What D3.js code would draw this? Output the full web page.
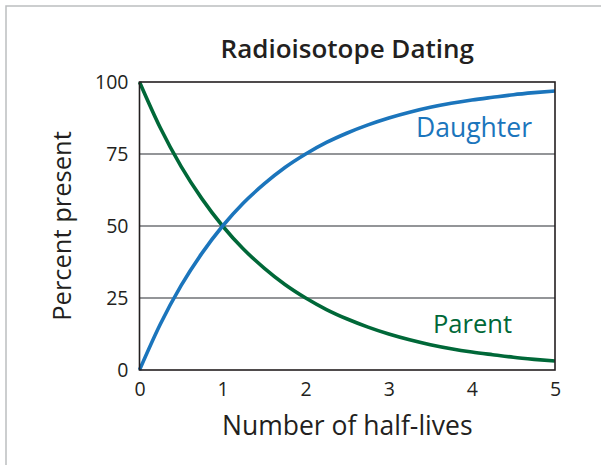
<!DOCTYPE html>
<html>
<head>
<meta charset="utf-8">
<script src="https://cdn.jsdelivr.net/npm/d3@7"></script>
<style>
  body { margin: 0; background: #fff; }
  text { font-family: "Open Sans", "Noto Sans", sans-serif; fill: #231f20; }
</style>
</head>
<body>
<script>
// half-lives elapsed
var halfLives = [0, 0.25, 0.5, 0.75, 1, 1.25, 1.5, 1.75, 2, 2.25, 2.5, 2.75,
                 3, 3.25, 3.5, 3.75, 4, 4.25, 4.5, 4.75, 5];
// percent of parent isotope left
var parentPct = [100, 84.1, 70.7, 59.5, 50, 42.0, 35.4, 29.7, 25, 21.0, 17.7, 14.9,
                 12.5, 10.5, 8.8, 7.4, 6.25, 5.3, 4.4, 3.7, 3.1];
// percent of daughter isotope formed
var daughterPct = [0, 15.9, 29.3, 40.5, 50, 58.0, 64.6, 70.3, 75, 79.0, 82.3, 85.1,
                   87.5, 89.5, 91.2, 92.6, 93.75, 94.7, 95.6, 96.3, 96.9];
var xTicks = [0, 1, 2, 3, 4, 5];
var yTicks = [0, 25, 50, 75, 100];

var W = 601, H = 465;
var plot = {left: 139.5, right: 555, top: 82, bottom: 370};

var svg = d3.select("body").append("svg")
    .attr("width", W)
    .attr("height", H);

// frame of the figure (cropped: only top and left show)
svg.append("path")
    .attr("d", "M6,465 L6,6 L601,6")
    .attr("fill", "none")
    .attr("stroke", "#bcbec0")
    .attr("stroke-width", 1.5);

var x = d3.scaleLinear().domain([0, 5]).range([plot.left, plot.right]);
var y = d3.scaleLinear().domain([0, 100]).range([plot.bottom, plot.top]);

// grid lines
svg.append("g")
    .selectAll("line")
    .data(yTicks.filter(function(d) { return d > 0 && d < 100; }))
    .join("line")
    .attr("x1", plot.left).attr("x2", plot.right)
    .attr("y1", function(d) { return y(d); })
    .attr("y2", function(d) { return y(d); })
    .attr("stroke", "#939598")
    .attr("stroke-width", 1.8);

// axes, labels only
var yAxis = svg.append("g")
    .attr("transform", "translate(" + (plot.left - 11) + ",0)")
    .call(d3.axisLeft(y).tickValues(yTicks).tickFormat(d3.format("d"))
          .tickSize(0).tickPadding(0));
var xAxis = svg.append("g")
    .attr("transform", "translate(0," + (plot.bottom + 12) + ")")
    .call(d3.axisBottom(x).tickValues(xTicks).tickFormat(d3.format("d"))
          .tickSize(0).tickPadding(0));
[yAxis, xAxis].forEach(function(a) {
    a.attr("font-family", null).attr("font-size", null);
    a.select(".domain").remove();
    a.selectAll("text")
        .style("font-size", "19.5px")
        .style("fill", "#231f20");
});

var line = d3.line()
    .x(function(d, i) { return x(halfLives[i]); })
    .y(function(d) { return y(d); })
    .curve(d3.curveMonotoneX);

svg.append("path")
    .attr("d", line(parentPct))
    .attr("fill", "none")
    .attr("stroke", "#006838")
    .attr("stroke-width", 3.6);

svg.append("path")
    .attr("d", line(daughterPct))
    .attr("fill", "none")
    .attr("stroke", "#1b75bc")
    .attr("stroke-width", 3.6);

// plot box
svg.append("rect")
    .attr("x", plot.left).attr("y", plot.top)
    .attr("width", plot.right - plot.left)
    .attr("height", plot.bottom - plot.top)
    .attr("fill", "none")
    .attr("stroke", "#231f20")
    .attr("stroke-width", 1.6);

// series labels
svg.append("text")
    .attr("x", 532).attr("y", 137)
    .attr("text-anchor", "end")
    .style("font-size", "26.5px")
    .style("fill", "#1b75bc")
    .text("Daughter");
svg.append("text")
    .attr("x", 512).attr("y", 333)
    .attr("text-anchor", "end")
    .style("font-size", "25.5px")
    .style("fill", "#006838")
    .text("Parent");

// title and axis titles
svg.append("text")
    .attr("x", (plot.left + plot.right) / 2).attr("y", 58)
    .attr("text-anchor", "middle")
    .style("font-size", "26px")
    .style("font-weight", 600)
    .text("Radioisotope Dating");
svg.append("text")
    .attr("x", (plot.left + plot.right) / 2).attr("y", 435)
    .attr("text-anchor", "middle")
    .style("font-size", "26.5px")
    .text("Number of half-lives");
svg.append("text")
    .attr("transform", "translate(71," + (plot.top + plot.bottom) / 2 + ") rotate(-90)")
    .attr("text-anchor", "middle")
    .style("font-size", "25.5px")
    .text("Percent present");
</script>
</body>
</html>
